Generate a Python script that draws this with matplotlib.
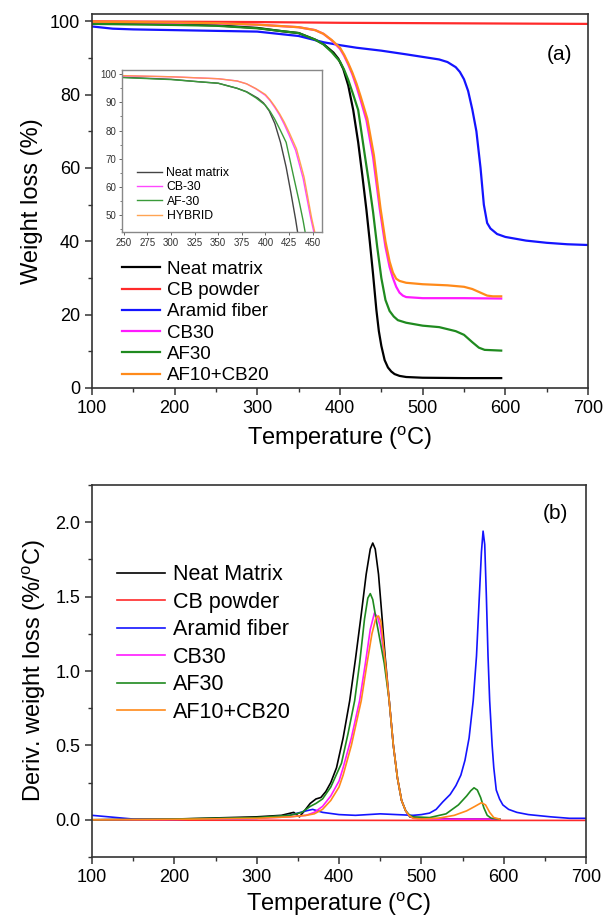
import matplotlib
matplotlib.use("Agg")
import matplotlib.pyplot as plt
from matplotlib.ticker import MultipleLocator

plt.rcParams["font.family"] = ["Liberation Sans", "DejaVu Sans"]
plt.rcParams["mathtext.fontset"] = "custom"
plt.rcParams["mathtext.rm"] = "Liberation Sans"

# ---- (a) TGA weight loss ----
neat_t = [100, 150, 200, 250, 300, 330, 350, 370, 380, 392, 398, 404, 410, 416, 422, 427, 432,
          436, 440, 444, 447, 450, 454, 458, 462, 466, 472, 480, 500, 550, 595]
neat_w = [99.6, 99.4, 99.2, 98.9, 98.2, 97.3, 96.8, 95.0, 93.8, 91.5, 89.8, 87.0, 82.5, 75.8, 67.0, 58.0, 48.5,
          40.0, 31.0, 21.3, 15.5, 11.5, 7.6, 5.6, 4.5, 3.8, 3.3, 3.0, 2.8, 2.7, 2.7]

cbp_t = [100, 200, 300, 400, 500, 600, 700]
cbp_w = [100.0, 99.9, 99.8, 99.6, 99.5, 99.4, 99.3]

af_t = [100, 125, 150, 200, 250, 300, 350, 380, 400, 420, 450, 480, 500, 520, 530, 540, 545, 550,
        555, 560, 565, 570, 574, 578, 582, 590, 600, 625, 650, 675, 700]
af_w = [98.6, 98.0, 97.8, 97.6, 97.4, 97.2, 96.0, 94.3, 93.5, 92.8, 92.0, 91.0, 90.3, 89.6, 88.9, 87.5, 86.2, 84.2,
        81.0, 76.0, 70.0, 60.0, 50.0, 45.0, 43.5, 42.0, 41.2, 40.2, 39.6, 39.2, 39.0]

cb30_t = [100, 200, 250, 300, 350, 370, 380, 390, 400, 405, 410, 415, 420, 425, 432, 440, 448,
          455, 460, 464, 468, 472, 476, 480, 500, 550, 595]
cb30_w = [99.8, 99.6, 99.4, 99.1, 98.4, 97.6, 96.6, 94.8, 92.5, 90.6, 88.2, 85.5, 82.2, 78.5, 73.0, 63.0, 49.0,
          38.5, 33.0, 30.0, 27.6, 26.0, 25.2, 24.8, 24.5, 24.5, 24.4]

af30_t = [100, 200, 250, 300, 350, 370, 380, 390, 400, 405, 410, 416, 422, 430, 436, 440, 445, 450,
          455, 460, 465, 470, 480, 500, 520, 540, 550, 560, 568, 575, 595]
af30_w = [99.3, 99.0, 98.8, 98.1, 96.8, 95.0, 93.7, 91.6, 89.0, 86.8, 84.0, 80.0, 75.8, 63.5, 54.5, 48.0, 38.5, 30.0,
          24.0, 21.0, 19.5, 18.5, 17.8, 17.0, 16.6, 15.5, 14.5, 12.5, 11.0, 10.4, 10.2]

hyb_t = [100, 200, 250, 300, 350, 370, 380, 390, 400, 405, 410, 415, 420, 425, 433, 441, 449,
         455, 460, 464, 468, 472, 480, 500, 530, 550, 560, 570, 578, 585, 595]
hyb_w = [99.9, 99.7, 99.5, 99.1, 98.4, 97.6, 96.6, 94.9, 92.8, 90.9, 88.6, 86.0, 83.0, 79.5, 73.5, 63.5, 49.0,
         40.0, 34.5, 31.5, 29.8, 29.2, 28.7, 28.3, 28.0, 27.6, 27.0, 26.0, 25.2, 25.0, 25.0]

# ---- (b) DTG ----
neat_dt = [100, 200, 300, 330, 345, 352, 358, 365, 372, 378, 384, 390, 397, 405, 413, 420, 427, 433, 438,
           441, 444, 448, 452, 456, 461, 466, 471, 476, 481, 486, 495, 550, 595]
neat_d = [0.0, 0.005, 0.02, 0.03, 0.05, 0.02, 0.06, 0.11, 0.14, 0.15, 0.19, 0.25, 0.35, 0.55, 0.80, 1.08, 1.38, 1.65, 1.82,
          1.86, 1.82, 1.65, 1.38, 1.10, 0.80, 0.50, 0.28, 0.13, 0.06, 0.02, 0.01, 0.005, 0.005]

cbp_dt = [100, 300, 500, 700]
cbp_d = [-0.002, -0.003, -0.004, -0.004]

af_dt = [100, 130, 150, 200, 300, 340, 360, 368, 380, 400, 420, 450, 470, 490, 500, 510, 518, 526, 535,
         542, 548, 553, 558, 563, 567, 570, 573, 575, 577, 579, 581, 583, 586, 588, 591, 595, 599, 606,
         616, 630, 657, 680, 700]
af_d = [0.03, 0.015, 0.005, 0.003, 0.01, 0.03, 0.06, 0.07, 0.05, 0.035, 0.03, 0.04, 0.035, 0.03, 0.035, 0.045, 0.07, 0.12, 0.17,
        0.23, 0.30, 0.40, 0.55, 0.80, 1.10, 1.45, 1.80, 1.94, 1.85, 1.50, 1.10, 0.80, 0.50, 0.35, 0.20, 0.14, 0.10, 0.07,
        0.05, 0.035, 0.02, 0.01, 0.01]

cb30_dt = [100, 200, 300, 340, 360, 370, 380, 390, 400, 405, 415, 425, 432, 438, 443, 447, 450, 455,
           461, 466, 471, 476, 481, 485, 490, 500, 595]
cb30_d = [0.0, 0.003, 0.01, 0.02, 0.03, 0.05, 0.09, 0.16, 0.26, 0.35, 0.55, 0.80, 1.05, 1.28, 1.39, 1.36, 1.30, 1.10,
          0.80, 0.50, 0.28, 0.13, 0.06, 0.03, 0.01, 0.005, 0.005]

af30_dt = [100, 200, 300, 340, 355, 365, 372, 380, 390, 403, 411, 419, 425, 431, 435, 438, 441, 445,
           450, 455, 461, 466, 471, 476, 481, 486, 490, 510, 530, 545, 555, 560, 564, 568, 572, 576, 580, 585, 595]
af30_d = [0.0, 0.005, 0.015, 0.03, 0.05, 0.09, 0.11, 0.14, 0.22, 0.38, 0.58, 0.80, 1.05, 1.35, 1.49, 1.52, 1.48, 1.35,
          1.20, 1.05, 0.80, 0.50, 0.28, 0.13, 0.06, 0.03, 0.02, 0.015, 0.04, 0.10, 0.16, 0.195, 0.215, 0.20, 0.15, 0.08,
          0.03, 0.01, 0.005]

hyb_dt = [100, 200, 300, 340, 360, 370, 380, 390, 400, 405, 415, 427, 434, 440, 445, 448, 451, 455,
          461, 466, 471, 476, 481, 485, 490, 500, 520, 540, 555, 565, 573, 578, 583, 588, 595]
hyb_d = [0.0, 0.003, 0.01, 0.02, 0.03, 0.04, 0.07, 0.13, 0.22, 0.30, 0.50, 0.80, 1.05, 1.25, 1.36, 1.37, 1.33, 1.12,
         0.80, 0.50, 0.28, 0.13, 0.06, 0.03, 0.01, 0.005, 0.01, 0.03, 0.06, 0.09, 0.115, 0.10, 0.05, 0.015, 0.005]

C_BLACK = "#000000"
C_RED = "#ff2a2a"
C_BLUE = "#1414ff"
C_MAG = "#ff1aff"
C_GREEN = "#1f8a1f"
C_ORANGE = "#ff8a1a"

fig = plt.figure(figsize=(6.16, 9.18), dpi=100)


def style_axes(ax, labelsize=13):
    for s in ax.spines.values():
        s.set_color("#333333")
        s.set_linewidth(1.2)
    ax.tick_params(which="both", direction="out", top=False, right=False,
                   labelsize=labelsize, color="#333333")
    ax.tick_params(which="major", length=5, width=1.1)
    ax.tick_params(which="minor", length=3, width=1.0)


# panel (a)
ax1 = fig.add_axes([92 / 616, 1 - 388 / 918, 496 / 616, 374 / 918])
lw = 1.6
ax1.plot(neat_t, neat_w, color=C_BLACK, lw=lw, label="Neat matrix")
ax1.plot(cbp_t, cbp_w, color=C_RED, lw=lw, label="CB powder")
ax1.plot(af_t, af_w, color=C_BLUE, lw=lw, label="Aramid fiber")
ax1.plot(cb30_t, cb30_w, color=C_MAG, lw=lw, label="CB30")
ax1.plot(af30_t, af30_w, color=C_GREEN, lw=lw, label="AF30")
ax1.plot(hyb_t, hyb_w, color=C_ORANGE, lw=lw, label="AF10+CB20")
ax1.set_xlim(100, 700)
ax1.set_ylim(0, 102)
ax1.xaxis.set_major_locator(MultipleLocator(100))
ax1.xaxis.set_minor_locator(MultipleLocator(50))
ax1.yaxis.set_major_locator(MultipleLocator(20))
ax1.yaxis.set_minor_locator(MultipleLocator(10))
style_axes(ax1)
ax1.set_xlabel(r"Temperature ($^{\rm o}$C)", fontsize=17, labelpad=5)
ax1.set_ylabel("Weight loss (%)", fontsize=17, labelpad=5)
ax1.text(666, 91, "(a)", fontsize=15, ha="center", va="center")
ax1.legend(loc="lower left", bbox_to_anchor=(0.035, -0.025), frameon=False, fontsize=13.5,
           handlelength=2.0, handletextpad=0.35, labelspacing=0.22, borderaxespad=0.3)

# inset
axi = fig.add_axes([122 / 616, 1 - 232 / 918, 200 / 616, 162 / 918])
ilw = 1.0
axi.plot(neat_t, neat_w, color="#444444", lw=ilw, label="Neat matrix")
axi.plot(cb30_t, cb30_w, color=C_MAG, lw=ilw, label="CB-30", alpha=0.8)
axi.plot(af30_t, af30_w, color="#3a9a3a", lw=ilw, label="AF-30")
axi.plot(hyb_t, hyb_w, color="#ff9a40", lw=ilw, label="HYBRID", alpha=0.9)
axi.set_xlim(248, 460)
axi.set_ylim(44, 101.5)
axi.xaxis.set_major_locator(MultipleLocator(25))
axi.yaxis.set_major_locator(MultipleLocator(10))
axi.yaxis.set_minor_locator(MultipleLocator(5))
for s in axi.spines.values():
    s.set_color("#888888")
    s.set_linewidth(1.0)
axi.tick_params(which="both", direction="out", top=False, right=False, labelsize=7,
                color="#666666", labelcolor="#333333", pad=1.5)
axi.tick_params(which="major", length=2.5, width=0.7)
axi.tick_params(which="minor", length=1.5, width=0.6)
axi.legend(loc="lower left", frameon=False, fontsize=8.8, handlelength=2.05, handletextpad=0.4,
           labelspacing=0.2, borderaxespad=0.3, bbox_to_anchor=(0.03, 0.008))

# panel (b)
ax2 = fig.add_axes([92 / 616, 1 - 857 / 918, 494 / 616, 372 / 918])
lw2 = 1.2
ax2.plot(neat_dt, neat_d, color=C_BLACK, lw=lw2, label="Neat Matrix")
ax2.plot(cbp_dt, cbp_d, color=C_RED, lw=lw2, label="CB powder")
ax2.plot(af_dt, af_d, color=C_BLUE, lw=lw2, label="Aramid fiber")
ax2.plot(cb30_dt, cb30_d, color=C_MAG, lw=lw2, label="CB30")
ax2.plot(af30_dt, af30_d, color=C_GREEN, lw=lw2, label="AF30")
ax2.plot(hyb_dt, hyb_d, color=C_ORANGE, lw=lw2, label="AF10+CB20")
ax2.set_xlim(100, 700)
ax2.set_ylim(-0.25, 2.25)
ax2.xaxis.set_major_locator(MultipleLocator(100))
ax2.xaxis.set_minor_locator(MultipleLocator(50))
ax2.yaxis.set_major_locator(MultipleLocator(0.5))
ax2.yaxis.set_minor_locator(MultipleLocator(0.25))
ax2.set_yticks([0.0, 0.5, 1.0, 1.5, 2.0])
style_axes(ax2)
ax2.set_xlabel(r"Temperature ($^{\rm o}$C)", fontsize=17, labelpad=3)
ax2.set_ylabel(r"Deriv. weight loss (%/$^{\rm o}$C)", fontsize=17, labelpad=5)
ax2.text(663, 2.06, "(b)", fontsize=15, ha="center", va="center")
ax2.legend(loc="upper left", bbox_to_anchor=(0.02, 0.827), frameon=False, fontsize=15.5,
           handlelength=2.25, handletextpad=0.35, labelspacing=0.3, borderaxespad=0.3)

fig.savefig("out.png", dpi=100)
